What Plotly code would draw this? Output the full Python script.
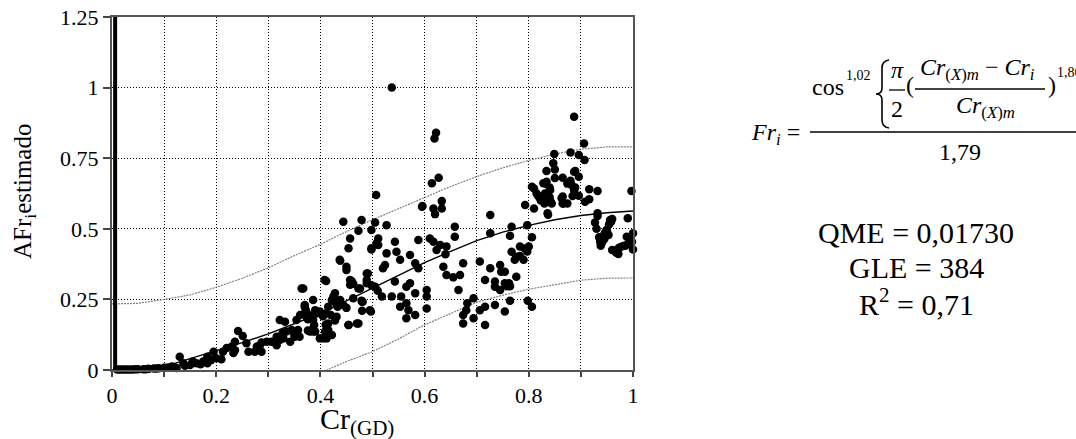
import plotly.graph_objects as go

# ---------------- data ----------------
cr_x = [
    0.01, 0.015, 0.02, 0.025, 0.03, 0.035, 0.04, 0.045, 0.05, 0.06, 0.065, 0.07, 0.08, 0.085, 0.09, 0.10, 0.105,
    0.11, 0.115, 0.12, 0.124, 0.13, 0.137, 0.14, 0.15, 0.155, 0.162, 0.17, 0.175, 0.183, 0.183, 0.19, 0.195,
    0.20, 0.21, 0.213, 0.22, 0.23, 0.233, 0.236, 0.236, 0.242, 0.251, 0.258, 0.262, 0.274, 0.278, 0.287,
    0.287, 0.297, 0.306, 0.316, 0.316, 0.322, 0.327, 0.332, 0.335, 0.345, 0.342, 0.351, 0.36, 0.361,
    0.367, 0.37, 0.373, 0.376, 0.376, 0.354, 0.357, 0.35, 0.329, 0.322, 0.284,
    0.411, 0.438, 0.454, 0.457, 0.473, 0.498, 0.498, 0.508, 0.45, 0.457, 0.463, 0.476, 0.489, 0.489, 0.498,
    0.481, 0.463, 0.438, 0.428, 0.444, 0.45, 0.47, 0.454, 0.431, 0.428, 0.415, 0.422, 0.412, 0.399, 0.405,
    0.386, 0.372, 0.378, 0.386, 0.388, 0.383, 0.39,
    0.444, 0.479, 0.505, 0.527, 0.511, 0.498, 0.511, 0.543, 0.527, 0.524, 0.52, 0.546, 0.553, 0.572, 0.582,
    0.588, 0.588, 0.595, 0.617, 0.62, 0.633, 0.61, 0.617, 0.623, 0.63, 0.642, 0.64, 0.658, 0.658, 0.674,
    0.636, 0.642, 0.655, 0.668, 0.665, 0.45, 0.46, 0.457, 0.473, 0.489, 0.491, 0.437, 0.48, 0.495, 0.505,
    0.51, 0.518, 0.537, 0.543, 0.553, 0.555, 0.565, 0.565, 0.572, 0.565, 0.569, 0.582, 0.582, 0.604, 0.604,
    0.604, 0.674, 0.68, 0.682, 0.694, 0.694, 0.674, 0.706, 0.706, 0.716, 0.716, 0.726, 0.726, 0.726, 0.716,
    0.735, 0.735, 0.745, 0.745, 0.747, 0.754, 0.754, 0.762, 0.735, 0.364,
    0.37, 0.37, 0.383, 0.39, 0.392, 0.38, 0.386, 0.399, 0.406, 0.409, 0.41, 0.415, 0.415, 0.42, 0.422,
    0.425, 0.43, 0.433, 0.454, 0.408, 0.415, 0.41, 0.479, 0.48, 0.473, 0.497,
    0.537, 0.622, 0.619, 0.627, 0.614, 0.507, 0.633, 0.596,
    0.806, 0.815, 0.821, 0.828, 0.833, 0.831, 0.841, 0.841, 0.844, 0.837, 0.863, 0.866, 0.882, 0.88, 0.887,
    0.887, 0.884,
    0.849, 0.847, 0.85, 0.834, 0.865, 0.85, 0.834, 0.879, 0.874, 0.84, 0.81, 0.818, 0.83, 0.84, 0.865,
    0.865, 0.874, 0.793, 0.81, 0.83, 0.836, 0.823, 0.767, 0.797, 0.764, 0.806, 0.767, 0.783, 0.783, 0.79,
    0.797, 0.8, 0.776, 0.764, 0.758, 0.798, 0.806, 0.764, 0.754, 0.773, 0.776, 0.792,
    0.887, 0.906, 0.88, 0.896, 0.907, 0.889, 0.896, 0.889, 0.916, 0.932, 0.997, 0.896, 0.916, 0.908, 0.932,
    0.932, 0.99, 0.927, 0.93, 0.956, 0.954, 0.949, 0.946, 0.94, 0.937, 0.94, 0.953, 0.988, 1.0, 0.998,
    0.99, 1.0, 0.981, 0.972, 0.966, 0.972, 0.946, 0.935, 0.943, 0.95, 0.958, 0.96, 0.945, 0.938, 0.985,
    0.975, 0.995, 0.96, 0.968,
]
afr_y = [
    0.002, 0.002, 0.002, 0.002, 0.002, 0.002, 0.002, 0.003, 0.003, 0.003, 0.003, 0.004, 0.005, 0.005, 0.006, 0.008, 0.008,
    0.009, 0.012, 0.010, 0.007, 0.047, 0.024, 0.015, 0.018, 0.030, 0.024, 0.020, 0.030, 0.047, 0.024, 0.035, 0.065,
    0.042, 0.038, 0.065, 0.078, 0.083, 0.060, 0.070, 0.100, 0.138, 0.120, 0.095, 0.065, 0.065, 0.083, 0.065,
    0.097, 0.100, 0.100, 0.088, 0.118, 0.177, 0.130, 0.171, 0.136, 0.142, 0.100, 0.118, 0.118, 0.195,
    0.289, 0.230, 0.190, 0.180, 0.140, 0.177, 0.142, 0.124, 0.112, 0.106, 0.088,
    0.315, 0.387, 0.431, 0.466, 0.493, 0.496, 0.431, 0.449, 0.354, 0.319, 0.305, 0.289, 0.342, 0.307, 0.300,
    0.242, 0.254, 0.248, 0.272, 0.230, 0.220, 0.165, 0.159, 0.189, 0.175, 0.142, 0.124, 0.112, 0.207, 0.190,
    0.248, 0.212, 0.195, 0.177, 0.159, 0.142, 0.136,
    0.525, 0.531, 0.522, 0.513, 0.466, 0.427, 0.443, 0.454, 0.413, 0.372, 0.360, 0.419, 0.390, 0.407, 0.378,
    0.360, 0.460, 0.578, 0.572, 0.552, 0.572, 0.466, 0.454, 0.425, 0.443, 0.437, 0.410, 0.507, 0.472, 0.378,
    0.366, 0.336, 0.328, 0.336, 0.283, 0.366, 0.314, 0.302, 0.289, 0.319, 0.342, 0.390, 0.242, 0.212, 0.295,
    0.281, 0.260, 0.260, 0.313, 0.224, 0.260, 0.236, 0.183, 0.307, 0.295, 0.212, 0.195, 0.272, 0.283, 0.260,
    0.218, 0.195, 0.212, 0.236, 0.254, 0.183, 0.165, 0.212, 0.384, 0.224, 0.159, 0.549, 0.484, 0.360, 0.319,
    0.313, 0.295, 0.283, 0.372, 0.348, 0.348, 0.307, 0.307, 0.230, 0.289,
    0.224, 0.200, 0.183, 0.212, 0.200, 0.136, 0.136, 0.112, 0.112, 0.136, 0.160, 0.130, 0.165, 0.195, 0.248,
    0.260, 0.236, 0.224, 0.159, 0.319, 0.224, 0.200, 0.245, 0.210, 0.165, 0.207,
    1.000, 0.840, 0.820, 0.681, 0.661, 0.620, 0.598, 0.581,
    0.649, 0.625, 0.610, 0.661, 0.660, 0.625, 0.637, 0.600, 0.590, 0.550, 0.608, 0.590, 0.655, 0.670, 0.702,
    0.637, 0.616,
    0.765, 0.732, 0.710, 0.705, 0.681, 0.680, 0.667, 0.663, 0.660, 0.646, 0.643, 0.616, 0.612, 0.612, 0.614,
    0.590, 0.590, 0.584, 0.572, 0.590, 0.555, 0.600, 0.507, 0.513, 0.475, 0.470, 0.419, 0.437, 0.404, 0.390,
    0.420, 0.437, 0.330, 0.297, 0.297, 0.245, 0.224, 0.245, 0.207, 0.390, 0.401, 0.430,
    0.897, 0.802, 0.770, 0.761, 0.744, 0.705, 0.684, 0.646, 0.640, 0.634, 0.634, 0.617, 0.605, 0.596, 0.555,
    0.545, 0.537, 0.522, 0.500, 0.531, 0.515, 0.496, 0.484, 0.472, 0.454, 0.450, 0.478, 0.472, 0.484, 0.454,
    0.445, 0.427, 0.439, 0.430, 0.422, 0.411, 0.472, 0.470, 0.460, 0.490, 0.525, 0.535, 0.465, 0.440, 0.440,
    0.435, 0.470, 0.425, 0.415,
]

curve_x = [0, 0.05, 0.1, 0.15, 0.2, 0.25, 0.3, 0.35, 0.4, 0.45, 0.5, 0.55, 0.6, 0.65, 0.7, 0.75, 0.8, 0.85, 0.9, 0.95, 1.0]
fit_y = [0.0, 0.003, 0.012, 0.04, 0.067, 0.097, 0.128, 0.165, 0.2, 0.245, 0.29, 0.335, 0.38, 0.42, 0.458, 0.488,
         0.512, 0.532, 0.547, 0.557, 0.563]
upper_y = [0.234, 0.236, 0.25, 0.266, 0.293, 0.325, 0.362, 0.405, 0.445, 0.49, 0.532, 0.572, 0.612, 0.65, 0.685,
           0.716, 0.742, 0.765, 0.782, 0.79, 0.79]
lower_x = [0.4, 0.45, 0.5, 0.55, 0.6, 0.65, 0.7, 0.75, 0.8, 0.85, 0.9, 0.95, 1.0]
lower_y = [-0.01, 0.03, 0.065, 0.11, 0.16, 0.2, 0.24, 0.265, 0.286, 0.302, 0.318, 0.325, 0.326]

bar_x = [0.006, 0.006]
bar_y = [0, 1.25]

xtick_vals = [0, 0.1, 0.2, 0.3, 0.4, 0.5, 0.6, 0.7, 0.8, 0.9, 1.0]
xtick_text = ["0", "", "0.2", "", "0.4", "", "0.6", "", "0.8", "", "1"]
ytick_vals = [0, 0.25, 0.5, 0.75, 1.0, 1.25]
ytick_text = ["0", "0.25", "0.5", "0.75", "1", "1.25"]

stats_lines = ["QME = 0,01730", "GLE = 384", "R<sup>2</sup> = 0,71"]

# ---------------- layout geometry ----------------
W, H = 1076, 439
L, R, T, B = 112, 633, 17, 370
SERIF = "Liberation Serif"


def px(x):
    return (x - L) / (R - L)


def py(y):
    return (B - y) / (B - T)


fig = go.Figure()
fig.add_trace(go.Scatter(x=curve_x, y=upper_y, mode="lines",
                         line=dict(color="#808080", width=1.2, dash="2px,1px"), hoverinfo="skip"))
fig.add_trace(go.Scatter(x=lower_x, y=lower_y, mode="lines",
                         line=dict(color="#808080", width=1.2, dash="2px,1px"), hoverinfo="skip"))
fig.add_trace(go.Scatter(x=curve_x, y=fit_y, mode="lines",
                         line=dict(color="black", width=1.4), hoverinfo="skip"))
fig.add_trace(go.Scatter(x=bar_x, y=bar_y, mode="lines",
                         line=dict(color="black", width=4), hoverinfo="skip"))
fig.add_trace(go.Scatter(x=cr_x, y=afr_y, mode="markers", cliponaxis=False,
                         marker=dict(color="black", size=8.5, line=dict(width=0))))

axis_common = dict(
    ticks="outside", tickwidth=1.5, tickcolor="#444",
    showgrid=True, gridcolor="black", griddash="1px,2px", gridwidth=1,
    showline=True, linecolor="#555", linewidth=2, mirror=True, zeroline=False,
    tickfont=dict(family=SERIF, size=22, color="black"),
)
fig.update_xaxes(range=[0, 1], tickmode="array", tickvals=xtick_vals, ticktext=xtick_text,
                 ticklen=5, **axis_common)
fig.update_yaxes(range=[0, 1.25], tickmode="array", tickvals=ytick_vals, ticktext=ytick_text,
                 ticklen=7, **axis_common)

ann = []


def text(x, y, s, size, xanchor="center", angle=0):
    ann.append(dict(xref="paper", yref="paper", x=px(x), y=py(y), text=s, showarrow=False,
                    xanchor=xanchor, yanchor="middle", textangle=angle,
                    font=dict(family=SERIF, size=size, color="black")))


# axis titles
text(357, 421, "Cr<sub>(GD)</sub>", 30)
text(24, 192, "AFr<sub>i</sub>estimado", 25, angle=-90)

# equation
text(749, 134, "<i>Fr</i><sub><i>i</i></sub> =", 24, xanchor="left")
text(810, 87, "cos", 24, xanchor="left")
text(844, 75, "1,02", 14, xanchor="left")
text(897, 70, "<i>π</i>", 24)
text(897, 109, "2", 24)
text(904, 85, "(", 24, xanchor="left")
text(977, 69, "<i>Cr</i><sub>(<i>X</i>)<i>m</i></sub> − <i>Cr</i><sub><i>i</i></sub>", 24)
text(985, 107, "<i>Cr</i><sub>(<i>X</i>)<i>m</i></sub>", 24)
text(1046, 85, ")", 24, xanchor="left")
text(1055, 72, "1,86", 14, xanchor="left")
text(960, 152, "1,79", 24)

# statistics
for i, s in enumerate(stats_lines):
    text(916, 232.5 + 34.5 * i, s, 30)

shapes = [
    dict(type="line", xref="paper", yref="paper", x0=px(810), x1=px(1090), y0=py(132), y1=py(132),
         line=dict(color="black", width=1.5)),
    dict(type="line", xref="paper", yref="paper", x0=px(889), x1=px(905), y0=py(90), y1=py(90),
         line=dict(color="black", width=1.3)),
    dict(type="line", xref="paper", yref="paper", x0=px(915), x1=px(1045), y0=py(89), y1=py(89),
         line=dict(color="black", width=1.3)),
]
pts = [(889, 60), (882, 61), (882, 68), (882, 88), (882, 94), (876, 94), (882, 94), (882, 100),
       (882, 120), (882, 127), (889, 128)]
P = [(px(a), py(b)) for a, b in pts]
path = (f"M {P[0][0]} {P[0][1]} Q {P[1][0]} {P[1][1]} {P[2][0]} {P[2][1]} L {P[3][0]} {P[3][1]} "
        f"Q {P[4][0]} {P[4][1]} {P[5][0]} {P[5][1]} Q {P[6][0]} {P[6][1]} {P[7][0]} {P[7][1]} "
        f"L {P[8][0]} {P[8][1]} Q {P[9][0]} {P[9][1]} {P[10][0]} {P[10][1]}")
shapes.append(dict(type="path", xref="paper", yref="paper", path=path, line=dict(color="black", width=1.6)))

fig.update_layout(
    width=W, height=H, margin=dict(l=L, r=W - R, t=T, b=H - B, autoexpand=False),
    plot_bgcolor="white", paper_bgcolor="white", showlegend=False,
    annotations=ann, shapes=shapes,
)

fig.write_html("out.html")
